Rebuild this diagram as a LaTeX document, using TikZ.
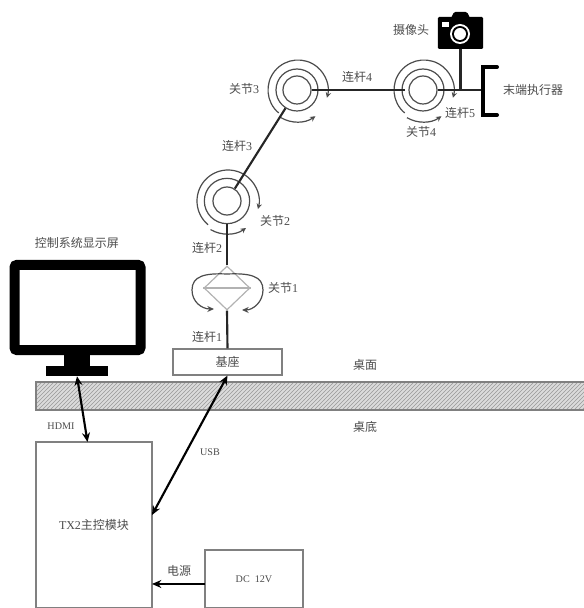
\documentclass[tikz,border=0pt]{standalone}
\usepackage{fontspec}
\setmainfont{Liberation Serif}
\newfontfamily\cjk{Noto Sans CJK SC}
\newcommand{\zh}[1]{{\cjk #1}}
\usetikzlibrary{shapes.geometric,patterns,arrows.meta}
\tikzset{
    lbl/.style={font=\fontsize{9}{11}\selectfont,text=black!70,inner sep=0pt},
    latinlbl/.style={font=\fontsize{7.6}{10}\selectfont,text=black!70,inner sep=0pt},
    boxnode/.style={draw=black!50,line width=0.8pt,fill=white,inner sep=0pt},
    link/.style={draw=black!85,line width=1.6pt},
    ring/.style={draw=black!70,line width=0.9pt},
    wire/.style={draw=black,line width=1.6pt},
    jointcore/.style={circle,ring,inner sep=0pt,minimum size=21pt},
    jointmid/.style={circle,ring,inner sep=0pt,minimum size=#1},
}
\begin{document}
\begin{tikzpicture}[x=0.75pt,y=0.75pt]
    \useasboundingbox (0,0) rectangle (584,608);
    \path[draw=black!50,line width=0.8pt,preaction={fill=black!14},pattern=north east lines,pattern color=black!40] (36,226) rectangle (590,198);
    \node[lbl] (deskup) at (365,243) {\zh{桌面}};
    \node[lbl] (deskdown) at (365,181) {\zh{桌底}};

    \node[draw=black,line width=7.5pt,rounded corners=2pt,fill=white,minimum width=94.5pt,minimum height=64pt,inner sep=0pt] (monitor) at (77.5,300.5) {};
    \fill[black] (64,256) rectangle (90,242);
    \node[fill=black,minimum width=46.5pt,minimum height=7.5pt,inner sep=0pt] (monitorbase) at (77,237) {};
    \node[lbl] (monitorlbl) at (77,365) {\zh{控制系统显示屏}};

    \node[boxnode,lbl,draw=black!50,inner sep=0pt,minimum width=81.75pt,minimum height=19.5pt] (basebox) at (227.5,246) {\zh{基座}};
    \node[boxnode,lbl,draw=black!50,inner sep=0pt,minimum width=87pt,minimum height=124.5pt] (tx2) at (94,83) {TX2\zh{主控模块}};
    \node[boxnode,latinlbl,draw=black!50,inner sep=0pt,minimum width=73.5pt,minimum height=43.5pt] (dcbox) at (254,29) {DC\ \ 12V};

    \coordinate (hdmiend) at (87.5,166);
    \coordinate (usbend) at (152,93);
    \coordinate (dcstart) at (205,24);
    \coordinate (tx2power) at (152,24);
    \draw[wire,{Stealth[length=7pt,width=6pt]}-{Stealth[length=7pt,width=6pt]}] (monitorbase.south) -- (hdmiend);
    \draw[wire,{Stealth[length=7pt,width=6pt]}-{Stealth[length=7pt,width=6pt]}] (basebox.south) -- (usbend);
    \draw[wire,-{Stealth[length=7pt,width=6pt]}] (dcstart) -- (tx2power);
    \node[latinlbl] (hdmilbl) at (61,182) {HDMI};
    \node[latinlbl] (usblbl) at (210,156) {USB};
    \node[lbl] (powerlbl) at (179,37) {\zh{电源}};

    \node[diamond,draw=black!30,line width=0.9pt,aspect=1.05,inner sep=0pt,minimum width=34.5pt,minimum height=33pt] (joint1) at (227,320) {};
    \draw[black!30,line width=0.9pt] (joint1.west) -- (joint1.east);
    \draw[ring,-{Stealth[length=5pt,width=4.5pt]}] (227,334) .. controls (205,335) and (192,332) .. (192,318) .. controls (192,306) and (202,299) .. (214,299);
    \draw[ring,-{Stealth[length=5pt,width=4.5pt]}] (227,334) .. controls (250,335) and (263,332) .. (263,318) .. controls (263,306) and (253,298) .. (242,298);

    \foreach \jname/\cx/\cy/\rmid/\rout/\rarr in {joint2/227/407/34pt/31/33,joint3/297/518/31.5pt/30/32,joint4/423/518/31.5pt/30/32} {
        \node[jointcore] (\jname) at (\cx,\cy) {};
        \node[jointmid=\rmid] (\jname mid) at (\cx,\cy) {};
        \draw[ring,-{Stealth[length=4pt,width=4pt]}] (\cx,\cy) ++(1,0) ++(-130:\rout) arc[start angle=-130,end angle=-375,radius=\rout];
        \draw[ring,-{Stealth[length=4pt,width=4pt]}] (\cx,\cy) ++(-120:\rarr) arc[start angle=-120,end angle=-55,radius=\rarr];
    }

    \draw[link] (basebox.north) -- (joint1.south);
    \draw[link] (joint1.north) -- (joint2mid.south);
    \draw[link] (joint2) -- (joint3mid);
    \draw[link,shorten >=-2.5pt] (joint3) -- (joint4mid);

    \coordinate (gripper) at (483,518);
    \coordinate (camfoot) at (460.5,518);
    \draw[link] (joint4) -- (gripper);
    \draw[black,line width=3pt,line cap=round] (497,541) -- (483,541) -- (483,493) -- (497,493);

    \fill[black,rounded corners=1pt] (451,590) -- (454,596) -- (467,596) -- (470,590) -- cycle;
    \node[fill=black,rounded corners=1pt,minimum width=34pt,minimum height=24pt,inner sep=0pt] (camera) at (460.5,575) {};
    \fill[white] (442,586) rectangle (449,581);
    \fill[white] (460,574) circle[radius=10];
    \fill[black] (460,574) circle[radius=8];
    \fill[white] (460,574) circle[radius=6];
    \draw[link] (camera.south) -- (camfoot);

    \node[lbl] (camlbl) at (411,578) {\zh{摄像头}};
    \node[lbl] (toollbl) at (533,518) {\zh{末端执行器}};
    \node[lbl] (link1lbl) at (207,271) {\zh{连杆}1};
    \node[lbl] (link2lbl) at (207,360) {\zh{连杆}2};
    \node[lbl] (link3lbl) at (237,462) {\zh{连杆}3};
    \node[lbl] (link4lbl) at (357,531) {\zh{连杆}4};
    \node[lbl] (link5lbl) at (460,495) {\zh{连杆}5};
    \node[lbl] (joint1lbl) at (283,320) {\zh{关节}1};
    \node[lbl] (joint2lbl) at (275,387) {\zh{关节}2};
    \node[lbl] (joint3lbl) at (244,519) {\zh{关节}3};
    \node[lbl] (joint4lbl) at (421,476) {\zh{关节}4};
\end{tikzpicture}
\end{document}
